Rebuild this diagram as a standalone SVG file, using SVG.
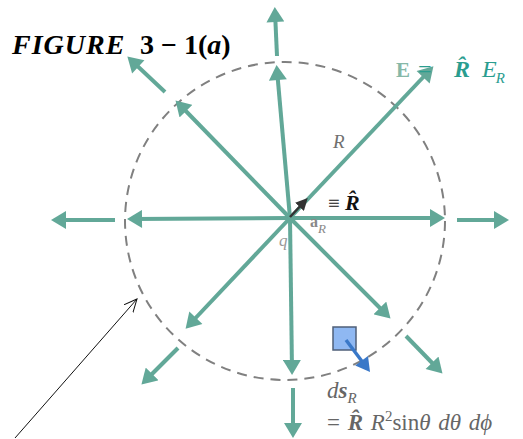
<svg xmlns="http://www.w3.org/2000/svg" width="523" height="439" viewBox="0 0 523 439">
<style>
.f{stroke:#62a898;stroke-width:4;fill:none;marker-end:url(#ah)}
.t{font-family:"Liberation Serif",serif}
</style>
<defs>
<marker id="ah" markerUnits="userSpaceOnUse" markerWidth="16" markerHeight="18" viewBox="0 0 15 18" refX="10" refY="9" orient="auto"><path d="M0,0 L15,9 L0,18 z" fill="#62a898"/></marker>
<marker id="ahd" markerUnits="userSpaceOnUse" markerWidth="12" markerHeight="12" viewBox="0 0 12 12" refX="8" refY="6" orient="auto"><path d="M0,0 L12,6 L0,12 z" fill="#333"/></marker>
<marker id="ahb" markerUnits="userSpaceOnUse" markerWidth="16" markerHeight="16" viewBox="0 0 14 16" refX="9" refY="8" orient="auto"><path d="M0,0 L14,8 L0,16 z" fill="#3a78c8"/></marker>
<marker id="open" markerUnits="userSpaceOnUse" markerWidth="14" markerHeight="14" viewBox="0 0 14 14" refX="13" refY="7" orient="auto"><path d="M0,1 L13,7 L0,13" fill="none" stroke="#111" stroke-width="1"/></marker>
</defs>
<rect width="523" height="439" fill="#fff"/>
<g id="sphere">
<ellipse cx="285" cy="221" rx="160" ry="159" fill="none" stroke="#808080" stroke-width="2" stroke-dasharray="10 7"/>
</g>
<g id="connectors">
<line class="f" x1="290" y1="218" x2="277" y2="70"/>
<line class="f" x1="290" y1="218" x2="132" y2="219"/>
<line class="f" x1="290" y1="218" x2="440" y2="218"/>
<line class="f" x1="290" y1="218" x2="292" y2="370"/>
<line class="f" x1="290" y1="218" x2="179" y2="104"/>
<line class="f" x1="290" y1="218" x2="189" y2="325"/>
<line class="f" x1="290" y1="218" x2="387" y2="315"/>
<line class="f" x1="290" y1="218" x2="430" y2="70"/>
<line class="f" x1="277" y1="56" x2="275" y2="12"/>
<line class="f" x1="115" y1="220" x2="56" y2="220"/>
<line class="f" x1="457" y1="220" x2="504" y2="220"/>
<line class="f" x1="293" y1="388" x2="293" y2="433"/>
<line class="f" x1="165" y1="92" x2="131" y2="60"/>
<line class="f" x1="178" y1="348" x2="145" y2="381"/>
<line class="f" x1="406" y1="336" x2="439" y2="370"/>
<line x1="290" y1="217" x2="305" y2="201" stroke="#333" stroke-width="2.5" marker-end="url(#ahd)"/>
<line x1="15" y1="438" x2="137" y2="299" stroke="#111" stroke-width="1" marker-end="url(#open)"/>
</g>
<g id="title">
<text class="t" x="12" y="54" font-size="28" font-weight="bold"><tspan font-style="italic" letter-spacing="1">FIGURE</tspan><tspan x="140">3 − 1(</tspan><tspan font-style="italic">a</tspan>)</text>
</g>
<g id="field-label">
<text class="t" x="396" y="77" font-size="21" fill="#86b8a8" font-weight="bold">E</text>
<text class="t" x="418" y="77" font-size="24" fill="#2a9d8f">=</text>
<text class="t" x="454" y="77" font-size="24" fill="#2a9d8f" font-weight="bold" font-style="italic">R̂</text>
<text class="t" x="482" y="77" font-size="24" fill="#2a9d8f"><tspan font-style="italic">E</tspan><tspan font-size="15" font-style="italic" dx="-1" dy="6">R</tspan></text>
</g>
<g id="radius-label">
<text class="t" x="333" y="148" font-size="19" fill="#707070" font-style="italic">R</text>
</g>
<g id="unit-label">
<text class="t" x="328" y="210" font-size="21" fill="#111">≡ <tspan font-size="22" font-weight="bold" font-style="italic">R̂</tspan></text>
<text class="t" x="310" y="227" font-size="16" fill="#888"><tspan font-weight="bold">a</tspan><tspan font-size="13" font-style="italic" dy="6">R</tspan></text>
<text class="t" x="279" y="246" font-size="17" fill="#999" font-style="italic">q</text>
</g>
<g id="surface-element">
<rect x="333" y="327" width="23" height="23" fill="#8fb8f2" stroke="#4f5f78" stroke-width="1.5"/>
<line x1="346" y1="340" x2="367" y2="368" stroke="#3a78c8" stroke-width="3.5" marker-end="url(#ahb)"/>
<text class="t" x="327" y="398" font-size="23" fill="#666"><tspan font-style="italic">d</tspan><tspan font-weight="bold" font-style="italic">s</tspan><tspan font-size="15" font-style="italic" dy="5">R</tspan></text>
<text class="t" x="327" y="430" font-size="23" fill="#666" word-spacing="2">= <tspan font-weight="bold" font-style="italic">R̂</tspan> <tspan font-style="italic">R</tspan><tspan font-size="15" dy="-9">2</tspan><tspan dy="9">sin</tspan><tspan font-style="italic">θ</tspan> <tspan font-style="italic">dθ</tspan> <tspan font-style="italic">dϕ</tspan></text>
</g>
</svg>
